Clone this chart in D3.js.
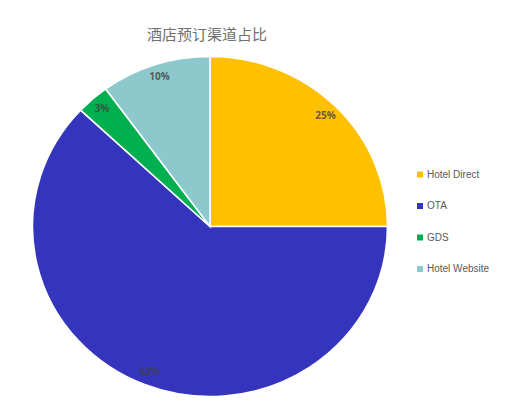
<!DOCTYPE html>
<html>
<head>
<meta charset="utf-8">
<script src="https://cdn.jsdelivr.net/npm/d3@7"></script>
<style>
  body { margin: 0; background: #fff; }
  svg { display: block; }
</style>
</head>
<body>
<div id="chart"></div>
<script>
var title = "酒店预订渠道占比"
var categories = ["Hotel Direct", "OTA", "GDS", "Hotel Website"]
var values = [25, 62, 3, 10]
var colors = ["#FFC000", "#3434BC", "#00B050", "#8DC8CC"]

var width = 516
var height = 405
var cx = 210, cy = 226.5
var radius = 170
var stretch = 1.044   // reference pie is slightly wider than tall

var svg = d3.select("#chart")
            .append("svg")
            .attr("width", width)
            .attr("height", height)

svg.append("text")
   .attr("x", 207)
   .attr("y", 36)
   .attr("text-anchor", "middle")
   .attr("dominant-baseline", "middle")
   .attr("font-family", "Noto Sans CJK SC")
   .attr("font-size", 15)
   .attr("fill", "#707070")
   .text(title)

var data = categories.map((c, i) => ({name: c, value: values[i], color: colors[i]}))

var pie = d3.pie().value(d => d.value).sort(null)
var arc = d3.arc().innerRadius(0).outerRadius(radius)
var labelArc = d3.arc().innerRadius(radius * 0.92).outerRadius(radius * 0.92)

var g = svg.append("g")
           .attr("transform", `translate(${cx},${cy}) scale(${stretch},1)`)

var arcs = pie(data)

g.selectAll("path")
 .data(arcs)
 .enter()
 .append("path")
 .attr("d", arc)
 .attr("fill", d => d.data.color)
 .attr("stroke", "#fff")
 .attr("stroke-width", 1.5)

svg.append("g")
   .selectAll("text")
   .data(arcs)
   .enter()
   .append("text")
   .attr("x", d => cx + labelArc.centroid(d)[0] * stretch)
   .attr("y", d => cy + labelArc.centroid(d)[1])
   .attr("text-anchor", "middle")
   .attr("dominant-baseline", "middle")
   .attr("font-family", "Open Sans")
   .attr("font-weight", "bold")
   .attr("font-size", 10)
   .attr("fill", "#404040")
   .attr("fill-opacity", 0.8)
   .text(d => d.data.value + "%")

var legend = svg.append("g")
                .selectAll("g")
                .data(data)
                .enter()
                .append("g")
                .attr("transform", (d, i) => `translate(417, ${174.5 + i * 31.5})`)

legend.append("rect")
      .attr("x", 0)
      .attr("y", -3)
      .attr("width", 6)
      .attr("height", 6)
      .attr("fill", d => d.color)

legend.append("text")
      .attr("x", 10)
      .attr("y", 0.5)
      .attr("dominant-baseline", "middle")
      .attr("font-family", "Liberation Sans")
      .attr("font-size", 10)
      .attr("fill", "#595959")
      .text(d => d.name)
</script>
</body>
</html>
